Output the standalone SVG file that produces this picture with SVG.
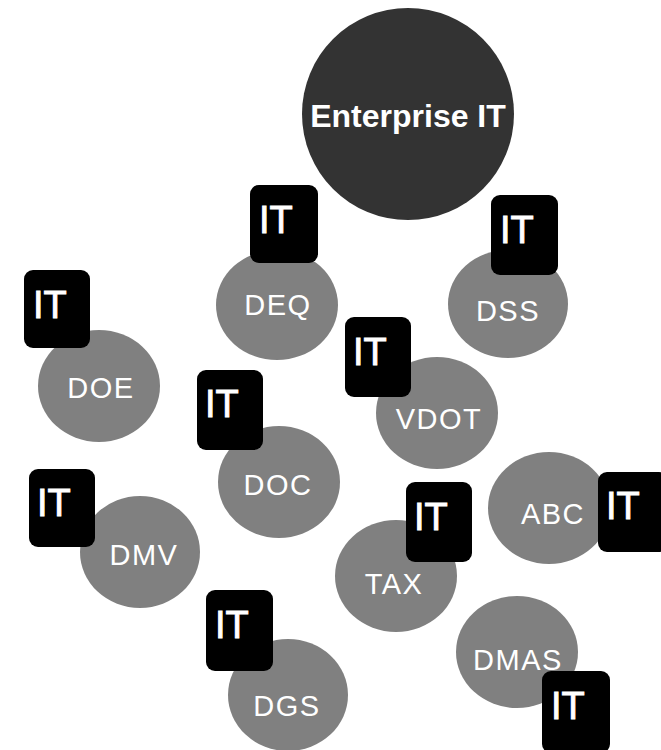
<svg xmlns="http://www.w3.org/2000/svg" width="661" height="750" viewBox="0 0 661 750">
<style>
.c{fill:#808080}
.e{fill:#333333}
.lbl{fill:#ffffff;font-family:"Liberation Sans",Arial,sans-serif;font-size:29px;letter-spacing:1.5px;text-anchor:middle}
.big{fill:#ffffff;font-family:"Liberation Sans",Arial,sans-serif;font-size:32px;font-weight:bold;text-anchor:middle}
.it{fill:#000000}
.itt{fill:#ffffff;stroke:#ffffff;stroke-width:0.9px;font-family:"Liberation Sans",Arial,sans-serif;font-size:38px}
</style>
<rect width="661" height="750" fill="#ffffff"/>
<g id="enterprise-it">
<circle class="e" cx="408" cy="114" r="106"/>
<text class="big" x="408" y="127">Enterprise IT</text>
</g>
<g id="deq">
<ellipse class="c" cx="277" cy="305" rx="61" ry="55"/>
<text class="lbl" x="278" y="315">DEQ</text>
<rect class="it" x="250" y="185" width="68" height="78" rx="9"/>
<text class="itt" x="259" y="233">IT</text>
</g>
<g id="dss">
<ellipse class="c" cx="508" cy="304" rx="60" ry="54"/>
<text class="lbl" x="508" y="321">DSS</text>
<rect class="it" x="491" y="195" width="67" height="80" rx="9"/>
<text class="itt" x="500" y="243">IT</text>
</g>
<g id="doe">
<ellipse class="c" cx="99" cy="386" rx="61" ry="56"/>
<text class="lbl" x="101" y="398">DOE</text>
<rect class="it" x="24" y="270" width="66" height="78" rx="9"/>
<text class="itt" x="33" y="318">IT</text>
</g>
<g id="vdot">
<ellipse class="c" cx="437" cy="413" rx="61" ry="56"/>
<text class="lbl" x="439" y="429">VDOT</text>
<rect class="it" x="345" y="317" width="66" height="80" rx="9"/>
<text class="itt" x="353" y="365">IT</text>
</g>
<g id="doc">
<ellipse class="c" cx="279" cy="482" rx="61" ry="56"/>
<text class="lbl" x="278" y="495">DOC</text>
<rect class="it" x="197" y="370" width="66" height="80" rx="9"/>
<text class="itt" x="205" y="417">IT</text>
</g>
<g id="abc">
<ellipse class="c" cx="549" cy="508" rx="61" ry="56"/>
<text class="lbl" x="553" y="524">ABC</text>
<rect class="it" x="598" y="472" width="70" height="80" rx="9"/>
<text class="itt" x="606" y="519">IT</text>
</g>
<g id="dmv">
<ellipse class="c" cx="140" cy="552" rx="60" ry="56"/>
<text class="lbl" x="144" y="565">DMV</text>
<rect class="it" x="29" y="469" width="66" height="78" rx="9"/>
<text class="itt" x="37" y="516">IT</text>
</g>
<g id="tax">
<ellipse class="c" cx="396" cy="576" rx="61" ry="56"/>
<text class="lbl" x="394" y="594">TAX</text>
<rect class="it" x="406" y="482" width="66" height="80" rx="9"/>
<text class="itt" x="414" y="530">IT</text>
</g>
<g id="dmas">
<ellipse class="c" cx="517" cy="652" rx="61" ry="56"/>
<text class="lbl" x="518" y="670">DMAS</text>
<rect class="it" x="542" y="671" width="68" height="82" rx="9"/>
<text class="itt" x="551" y="719">IT</text>
</g>
<g id="dgs">
<ellipse class="c" cx="288" cy="695" rx="60" ry="56"/>
<text class="lbl" x="287" y="716">DGS</text>
<rect class="it" x="206" y="590" width="67" height="81" rx="9"/>
<text class="itt" x="215" y="638">IT</text>
</g>
</svg>
